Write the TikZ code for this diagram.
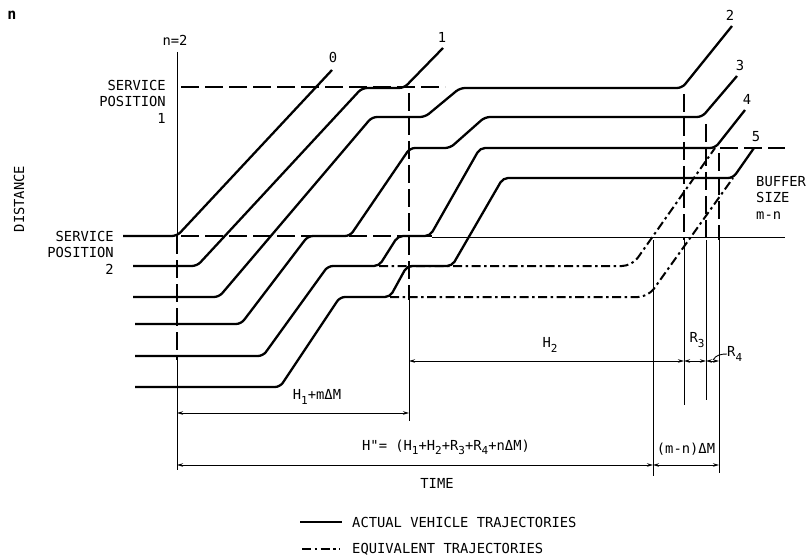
\documentclass[tikz,border=0pt]{standalone}
\usepackage{fontspec}
\setmainfont{DejaVu Sans Mono}[Ligatures=TeXOff]
\usetikzlibrary{arrows.meta, positioning}

\newcommand{\lowidx}[1]{\raisebox{-0.55ex}{\fontsize{11}{11}\selectfont #1}}

\begin{document}
\begin{tikzpicture}[
  x=1pt, y=-1pt,
  traj/.style={line width=2.3pt, rounded corners=5pt},
  equiv/.style={line width=2pt, dash pattern=on 9pt off 3.5pt on 2.5pt off 3.5pt, rounded corners=10pt},
  guide/.style={line width=1.1pt, dash pattern=on 18pt off 6pt},
  extline/.style={line width=0.9pt},
  dim/.style={line width=0.9pt, {Stealth[length=6pt,width=3.5pt]}-{Stealth[length=6pt,width=3.5pt]}},
  lbl/.style={font=\fontsize{13.8}{16.5}\selectfont, inner sep=0pt},
]
\useasboundingbox (0,0) rectangle (808,556);

\node[lbl, font=\fontsize{15}{16}\bfseries] (fig) at (12,15) {n};
\node[lbl] (ntwo) at (175,40) {n=2};
\node[lbl, rotate=90] (dist) at (19,199) {DISTANCE};
\node[lbl, anchor=north east, align=right] (spone) at (166,80) {SERVICE\\POSITION\\1};
\node[lbl, anchor=north east, align=right] (sptwo) at (114,231) {SERVICE\\POSITION\\2};
\node[lbl, anchor=north west, align=left] (buffer) at (756,176) {BUFFER\\SIZE\\m-n};

\node[lbl] (tzero)  at (333,57)  {0};
\node[lbl] (tone)   at (442,37)  {1};
\node[lbl] (ttwo)   at (730,15)  {2};
\node[lbl] (tthree) at (740,65)  {3};
\node[lbl] (tfour)  at (747,99)  {4};
\node[lbl] (tfive)  at (756,137) {5};

\draw[extline] (177,52) -- (177,236);
\draw[guide] (177,236) -- (177,360);
\draw[extline] (177,360) -- (177,470);

\draw[guide] (181,87) -- (445,87);
\draw[guide] (181,236) -- (432,236);
\draw[extline] (432,237) -- (785,237);
\draw[guide] (720,148) -- (785,148);

\draw[guide] (409,93) -- (409,300);
\draw[extline] (409,300) -- (409,421);
\draw[guide] (684,94) -- (684,240);
\draw[extline] (684,240) -- (684,405);
\draw[guide] (706,124) -- (706,240);
\draw[extline] (706,240) -- (706,400);
\draw[guide] (719,153) -- (719,240);
\draw[extline] (719,240) -- (719,473);
\draw[extline] (653,240) -- (653,476);

\draw[traj] (123,236) -- (177,236) -- (332,70);
\draw[traj] (133,266) -- (197,266) -- (362,88) -- (404,88) -- (443,48);
\draw[traj] (133,297) -- (219,297) -- (372,117) -- (425,117) -- (460,88) -- (682,88) -- (732,26);
\draw[traj] (135,324) -- (241,324) -- (308,236) -- (350,236) -- (410,148) -- (450,148) -- (485,117) -- (702,117) -- (737,76);
\draw[traj] (135,356) -- (263,356) -- (328,266) -- (379,266) -- (398,236) -- (430,236) -- (480,148) -- (715,148) -- (745,110);
\draw[traj] (135,387) -- (280,387) -- (340,297) -- (390,297) -- (407,266) -- (452,266) -- (503,178) -- (733,178) -- (754,148);

\draw[equiv] (379,266) -- (632,266) -- (715,148);
\draw[equiv] (390,297) -- (648,297) -- (733,178);

\draw[dim] (177,413) -- (409,413);
\node[lbl] (hone) at (317,397) {H\lowidx{1}+mΔM};
\draw[dim] (409,361) -- (684,361);
\node[lbl] (htwo) at (550,345) {H\lowidx{2}};
\draw[dim] (684,361) -- (706,361);
\node[lbl] (rthree) at (697,340) {R\lowidx{3}};
\draw[dim] (706,361) -- (719,361);
\node[lbl, anchor=west] (rfour) at (727,354) {R\lowidx{4}};
\draw[extline] (713,360) to[out=60, in=180] (rfour.west);
\draw[dim] (177,465) -- (653,465);
\node[lbl] (htot) at (446,447) {H"= (H\lowidx{1}+H\lowidx{2}+R\lowidx{3}+R\lowidx{4}+nΔM)};
\draw[dim] (653,465) -- (719,465);
\node[lbl] (buf) at (686,449) {(m-n)ΔM};
\node[lbl] (time) at (437,483) {TIME};

\node[lbl, anchor=west] (actual) at (352,522) {ACTUAL VEHICLE TRAJECTORIES};
\draw[traj] (300,522) -- ([xshift=-10pt]actual.west);
\node[lbl, anchor=west] (equal) at (352,549) {EQUIVALENT TRAJECTORIES};
\draw[equiv] (302,549) -- ([xshift=-12pt]equal.west);
\end{tikzpicture}
\end{document}
